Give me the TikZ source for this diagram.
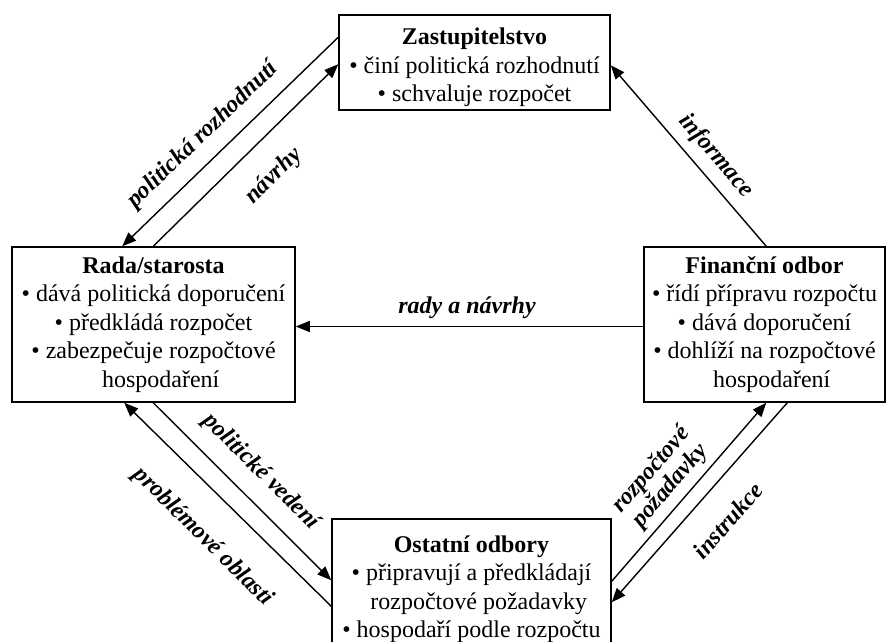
\documentclass[tikz,border=0pt]{standalone}
\usepackage{fontspec}
\setmainfont{Liberation Serif}
\usetikzlibrary{arrows.meta,calc}
\begin{document}
\begin{tikzpicture}[x=1pt,y=-1pt,
  box/.style={draw, line width=1.5pt, align=center, inner sep=0pt,
    font=\fontsize{24}{28.5}\selectfont},
  lab/.style={font=\fontsize{24}{25}\selectfont\bfseries\itshape, inner sep=0pt, align=center},
  arr/.style={line width=1.4pt, -{Triangle[length=14pt,width=11pt]}}]
\useasboundingbox (0,0) rectangle (886,641);
\node[box, minimum width=271pt, minimum height=95pt] (zast) at (474.5,62.5)
  {\rule{0pt}{27pt}\textbf{Zastupitelstvo}\\• činí politická rozhodnutí\\• schvaluje rozpočet};
\node[box, minimum width=283pt, minimum height=155pt] (rada) at (153.5,324.5)
  {\textbf{Rada/starosta}\\• dává politická doporučení\\• předkládá rozpočet\\• zabezpečuje rozpočtové\\\phantom{• }hospodaření};
\node[box, minimum width=241pt, minimum height=155pt] (fin) at (764.5,324.5)
  {\textbf{Finanční odbor}\\• řídí přípravu rozpočtu\\• dává doporučení\\• dohlíží na rozpočtové\\\phantom{• }hospodaření};
\node[box, minimum width=279pt, minimum height=140pt] (ost) at (471.5,589)
  {\textbf{Ostatní odbory}\\• připravují a předkládají\\\phantom{• }rozpočtové požadavky\\• hospodaří podle rozpočtu};

\draw[arr] ($(zast.north west)+(0,23)$) -- ($(rada.north west)+(111,0)$);
\draw[arr] ($(rada.north west)+(142,0)$) -- ($(zast.north west)+(0,50)$);
\draw[arr] ($(fin.north west)+(123,0)$) -- ($(zast.north east)+(0,51)$);
\draw[arr] ($(fin.west)+(0,2)$) -- ($(rada.east)+(0,2)$);
\draw[arr] ($(rada.south west)+(142,0)$) -- ($(ost.north west)+(0,62)$);
\draw[arr] ($(ost.north west)+(0,88)$) -- ($(rada.south west)+(113,0)$);
\draw[arr] ($(ost.north east)+(0,63)$) -- ($(fin.south west)+(123,0)$);
\draw[arr] ($(fin.south west)+(144,0)$) -- ($(ost.north east)+(0,84)$);

\node[lab, rotate=44] (l1) at (203,135) {politická rozhodnutí};
\node[lab, rotate=44.5] (l2) at (274,176) {návrhy};
\node[lab, rotate=-49] (l3) at (716,156) {informace};
\node[lab] (l4) at (467,308) {rady a návrhy};
\node[lab, rotate=-45] (l5) at (261,472) {politické vedení};
\node[lab, rotate=-44.7] (l6) at (203,537) {problémové oblasti};
\node[lab, rotate=49] (l7) at (661,478) {rozpočtové\\požadavky};
\node[lab, rotate=48.6] (l8) at (728,521) {instrukce};
\end{tikzpicture}
\end{document}
